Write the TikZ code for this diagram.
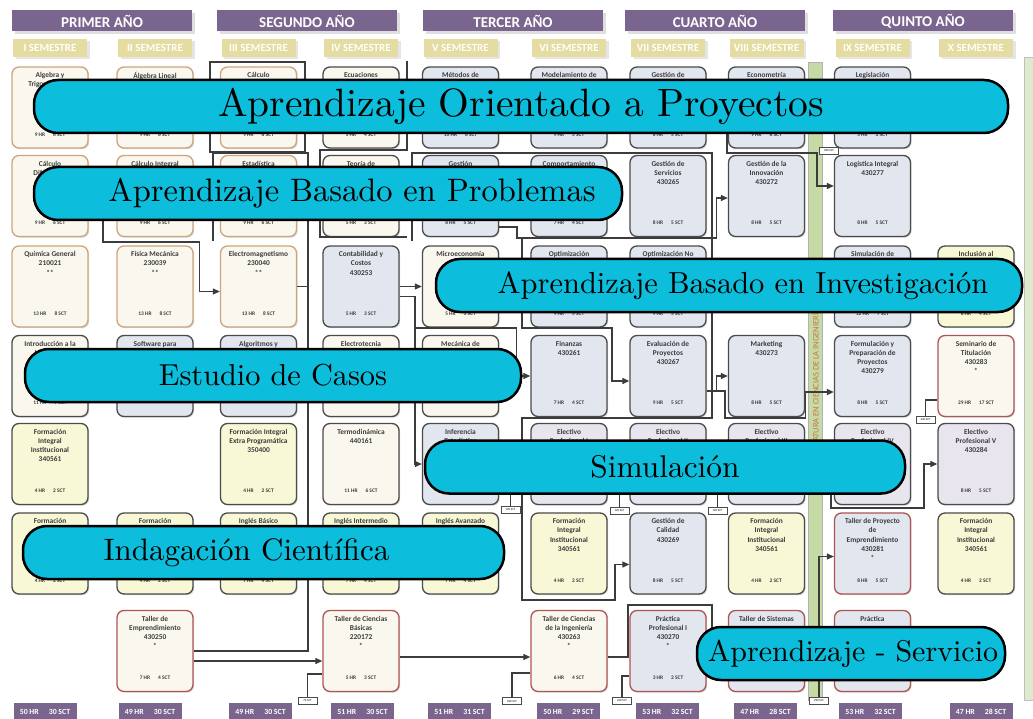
\documentclass[tikz,border=0pt]{standalone}
\usepackage{fontspec}
\newfontfamily\calib{Carlito}
\newfontfamily\cartelfont{lmroman10-regular.otf}
\usetikzlibrary{shadows,arrows.meta}

\definecolor{morado}{RGB}{122,101,142}
\definecolor{caqui}{RGB}{228,220,160}
\definecolor{celeste}{RGB}{12,190,220}
\definecolor{crema}{RGB}{250,248,238}
\definecolor{cafe}{RGB}{205,165,125}
\definecolor{grisazul}{RGB}{225,230,239}
\definecolor{borde}{RGB}{75,75,75}
\definecolor{amarillo}{RGB}{248,248,214}
\definecolor{lila}{RGB}{233,229,238}
\definecolor{rojizo}{RGB}{175,85,85}
\definecolor{verde}{RGB}{197,218,165}
\definecolor{verdeclaro}{RGB}{222,234,205}
\definecolor{ocre}{RGB}{200,115,75}
\definecolor{texto}{RGB}{60,60,60}
\definecolor{conector}{RGB}{60,60,60}

\begin{document}
\begin{tikzpicture}[x=1pt,y=-1pt,
  curso/.style={draw=borde, line width=1.3pt, rounded corners=7pt,
    minimum width=76pt, minimum height=81pt, inner sep=0pt,
    drop shadow={shadow xshift=1.2pt, shadow yshift=-1.2pt, opacity=.3}},
  basica/.style={curso, fill=crema, draw=cafe},
  ciencia/.style={curso, fill=crema},
  gestion/.style={curso, fill=grisazul},
  integral/.style={curso, fill=amarillo},
  electivo/.style={curso, fill=lila},
  taller/.style={curso, fill=crema, draw=rojizo},
  practica/.style={curso, fill=grisazul, draw=rojizo},
  tit/.style={anchor=north, yshift=-2.5pt, align=center, text=texto,
    font=\calib\bfseries\fontsize{7.4}{9.3}\selectfont},
  hrs/.style={anchor=south, yshift=9pt, text=texto,
    font=\calib\bfseries\fontsize{5.4}{5.6}\selectfont},
  anio/.style={fill=morado, text=white, minimum width=180pt, minimum height=21pt,
    font=\calib\bfseries\fontsize{15}{15}\selectfont,
    drop shadow={shadow xshift=2.5pt, shadow yshift=-2.5pt, opacity=.25}},
  semestre/.style={fill=caqui, text=white, minimum width=74pt, minimum height=18pt,
    font=\calib\bfseries\fontsize{11}{11}\selectfont,
    drop shadow={shadow xshift=2.5pt, shadow yshift=-2.5pt, opacity=.2}},
  total/.style={fill=morado, text=white, minimum width=63pt, minimum height=18pt,
    anchor=north, font=\calib\bfseries\fontsize{7.8}{7.8}\selectfont},
  etiqueta/.style={draw=borde, fill=white, line width=.6pt, inner sep=1pt,
    minimum width=19pt, minimum height=7pt, font=\calib\fontsize{3}{3}\selectfont},
  cartel/.style={draw=black, line width=2.5pt, fill=celeste, rounded corners=24pt,
    minimum height=53pt},
  linea/.style={draw=conector, line width=1.1pt},
  flecha/.style={linea, -{Triangle[length=7pt,width=6pt]}},
]
\path[use as bounding box, fill=white] (0,0) rectangle (1033,719);

% bandas verdes
\node[fill=verde, draw=gray!60, line width=.5pt, minimum width=14pt, minimum height=638pt] (banda) at (815,381) {};
\node[rotate=90, text=ocre, font=\calib\fontsize{8.5}{8.5}\selectfont] (lema) at (815,386) {ASIGNATURA EN CIENCIAS DE LA INGENIERÍA};
\node[fill=verdeclaro, draw=gray!50, line width=.5pt, anchor=north west, minimum width=16pt, minimum height=643pt] (banda2) at (1024,57) {};

% encabezados
\node[anio] (a1) at (102,21) {PRIMER AÑO};
\node[anio] (a2) at (307,21) {SEGUNDO AÑO};
\node[anio] (a3) at (513,21) {TERCER AÑO};
\node[anio] (a4) at (715,21) {CUARTO AÑO};
\node[anio] (a5) at (923,21) {QUINTO AÑO};
\node[semestre] (m1) at (50,48) {I SEMESTRE};
\node[semestre] (m2) at (155,48) {II SEMESTRE};
\node[semestre] (m3) at (258.5,48) {III SEMESTRE};
\node[semestre] (m4) at (361,48) {IV SEMESTRE};
\node[semestre] (m5) at (460.5,48) {V SEMESTRE};
\node[semestre] (m6) at (569,48) {VI SEMESTRE};
\node[semestre] (m7) at (668,48) {VII SEMESTRE};
\node[semestre] (m8) at (766.5,48) {VIII SEMESTRE};
\node[semestre] (m9) at (872.5,48) {IX SEMESTRE};
\node[semestre] (m10) at (976,48) {X SEMESTRE};

% I semestre
\node[basica, label={[tit]north:Algebra y\\Trigonometría}, label={[hrs]south:9 HR\hspace{8pt}6 SCT}] (s1r1) at (50,107.5) {};
\node[basica, label={[tit]north:Cálculo\\Diferencial}, label={[hrs]south:9 HR\hspace{8pt}6 SCT}] (s1r2) at (50,196) {};
\node[basica, label={[tit]north:Química General\\210021\\**}, label={[hrs]south:13 HR\hspace{8pt}8 SCT}] (s1r3) at (50,286.5) {};
\node[ciencia, label={[tit]north:Introducción a la\\Ingeniería}, label={[hrs]south:11 HR\hspace{8pt}7 SCT}] (s1r4) at (50,376) {};
\node[integral, label={[tit]north:Formación\\Integral\\Institucional\\340561}, label={[hrs]south:4 HR\hspace{8pt}2 SCT}] (s1r5) at (50,464) {};
\node[integral, label={[tit]north:Formación}, label={[hrs]south:4 HR\hspace{8pt}2 SCT}] (s1r6) at (50,553.5) {};
% II semestre
\node[basica, label={[tit]north:Álgebra Lineal}, label={[hrs]south:9 HR\hspace{8pt}6 SCT}] (s2r1) at (155,107.5) {};
\node[basica, label={[tit]north:Cálculo Integral}, label={[hrs]south:9 HR\hspace{8pt}6 SCT}] (s2r2) at (155,196) {};
\node[basica, label={[tit]north:Física Mecánica\\230039\\**}, label={[hrs]south:13 HR\hspace{8pt}8 SCT}] (s2r3) at (155,286.5) {};
\node[gestion, label={[tit]north:Software para}] (s2r4) at (155,376) {};
\node[integral, label={[tit]north:Formación}, label={[hrs]south:4 HR\hspace{8pt}2 SCT}] (s2r6) at (155,553.5) {};
\node[taller, label={[tit]north:Taller de\\Emprendimiento\\430250\\*}, label={[hrs]south:7 HR\hspace{8pt}4 SCT}] (s2r7) at (155,651) {};
% III semestre
\node[basica, label={[tit]north:Cálculo}, label={[hrs]south:9 HR\hspace{8pt}6 SCT}] (s3r1) at (258.5,107.5) {};
\node[basica, label={[tit]north:Estadística}, label={[hrs]south:9 HR\hspace{8pt}6 SCT}] (s3r2) at (258.5,196) {};
\node[basica, label={[tit]north:Electromagnetismo\\230040\\**}, label={[hrs]south:13 HR\hspace{8pt}8 SCT}] (s3r3) at (258.5,286.5) {};
\node[gestion, label={[tit]north:Algoritmos y}] (s3r4) at (258.5,376) {};
\node[integral, label={[tit]north:Formación Integral\\Extra Programática\\350400}, label={[hrs]south:4 HR\hspace{8pt}2 SCT}] (s3r5) at (258.5,464) {};
\node[integral, label={[tit]north:Inglés Básico}, label={[hrs]south:7 HR\hspace{8pt}4 SCT}] (s3r6) at (258.5,553.5) {};
% IV semestre
\node[ciencia, label={[tit]north:Ecuaciones}, label={[hrs]south:5 HR\hspace{8pt}4 SCT}] (s4r1) at (361,107.5) {};
\node[ciencia, label={[tit]north:Teoría de}, label={[hrs]south:5 HR\hspace{8pt}3 SCT}] (s4r2) at (361,196) {};
\node[gestion, label={[tit]north:Contabilidad y\\Costos\\430253}, label={[hrs]south:5 HR\hspace{8pt}3 SCT}] (s4r3) at (361,286.5) {};
\node[ciencia, label={[tit]north:Electrotecnia}] (s4r4) at (361,376) {};
\node[ciencia, label={[tit]north:Termodinámica\\440161}, label={[hrs]south:11 HR\hspace{8pt}6 SCT}] (s4r5) at (361,464) {};
\node[integral, label={[tit]north:Inglés Intermedio}, label={[hrs]south:7 HR\hspace{8pt}4 SCT}] (s4r6) at (361,553.5) {};
\node[taller, label={[tit]north:Taller de Ciencias\\Básicas\\220172\\*}, label={[hrs]south:5 HR\hspace{8pt}3 SCT}] (s4r7) at (361,651) {};
% V semestre
\node[gestion, label={[tit]north:Métodos de}, label={[hrs]south:10 HR\hspace{8pt}6 SCT}] (s5r1) at (460.5,107.5) {};
\node[gestion, label={[tit]north:Gestión}, label={[hrs]south:8 HR\hspace{8pt}5 SCT}] (s5r2) at (460.5,196) {};
\node[ciencia, label={[tit]north:Microeconomía}, label={[hrs]south:5 HR\hspace{8pt}3 SCT}] (s5r3) at (460.5,286.5) {};
\node[ciencia, label={[tit]north:Mecánica de\\Sólidos y Fluidos}] (s5r4) at (460.5,376) {};
\node[gestion, label={[tit]north:Inferencia\\Estadística}] (s5r5) at (460.5,464) {};
\node[integral, label={[tit]north:Inglés Avanzado}, label={[hrs]south:7 HR\hspace{8pt}4 SCT}] (s5r6) at (460.5,553.5) {};
% VI semestre
\node[gestion, label={[tit]north:Modelamiento de}, label={[hrs]south:9 HR\hspace{8pt}5 SCT}] (s6r1) at (569,107.5) {};
\node[gestion, label={[tit]north:Comportamiento}, label={[hrs]south:7 HR\hspace{8pt}4 SCT}] (s6r2) at (569,196) {};
\node[gestion, label={[tit]north:Optimización}, label={[hrs]south:9 HR\hspace{8pt}5 SCT}] (s6r3) at (569,286.5) {};
\node[gestion, label={[tit]north:Finanzas\\430261}, label={[hrs]south:7 HR\hspace{8pt}4 SCT}] (s6r4) at (569,376) {};
\node[electivo, label={[tit]north:Electivo\\Profesional I}, label={[hrs]south:8 HR\hspace{8pt}5 SCT}] (s6r5) at (569,464) {};
\node[integral, label={[tit]north:Formación\\Integral\\Institucional\\340561}, label={[hrs]south:4 HR\hspace{8pt}2 SCT}] (s6r6) at (569,553.5) {};
\node[taller, label={[tit]north:Taller de Ciencias\\de la Ingeniería\\430263\\*}, label={[hrs]south:6 HR\hspace{8pt}4 SCT}] (s6r7) at (569,651) {};
% VII semestre
\node[gestion, label={[tit]north:Gestión de}, label={[hrs]south:8 HR\hspace{8pt}5 SCT}] (s7r1) at (668,107.5) {};
\node[gestion, label={[tit]north:Gestión de\\Servicios\\430265}, label={[hrs]south:8 HR\hspace{8pt}5 SCT}] (s7r2) at (668,196) {};
\node[gestion, label={[tit]north:Optimización No}, label={[hrs]south:9 HR\hspace{8pt}5 SCT}] (s7r3) at (668,286.5) {};
\node[gestion, label={[tit]north:Evaluación de\\Proyectos\\430267}, label={[hrs]south:9 HR\hspace{8pt}5 SCT}] (s7r4) at (668,376) {};
\node[electivo, label={[tit]north:Electivo\\Profesional II}, label={[hrs]south:8 HR\hspace{8pt}5 SCT}] (s7r5) at (668,464) {};
\node[gestion, label={[tit]north:Gestión de\\Calidad\\430269}, label={[hrs]south:8 HR\hspace{8pt}5 SCT}] (s7r6) at (668,553.5) {};
\node[practica, label={[tit]north:Práctica\\Profesional I\\430270\\*}, label={[hrs]south:3 HR\hspace{8pt}2 SCT}] (s7r7) at (668,651) {};
% VIII semestre
\node[gestion, label={[tit]north:Econometría}, label={[hrs]south:9 HR\hspace{8pt}6 SCT}] (s8r1) at (766.5,107.5) {};
\node[gestion, label={[tit]north:Gestión de la\\Innovación\\430272}, label={[hrs]south:8 HR\hspace{8pt}5 SCT}] (s8r2) at (766.5,196) {};
\node[gestion, label={[tit]north:Marketing\\430273}, label={[hrs]south:8 HR\hspace{8pt}5 SCT}] (s8r4) at (766.5,376) {};
\node[electivo, label={[tit]north:Electivo\\Profesional III}, label={[hrs]south:8 HR\hspace{8pt}5 SCT}] (s8r5) at (766.5,464) {};
\node[integral, label={[tit]north:Formación\\Integral\\Institucional\\340561}, label={[hrs]south:4 HR\hspace{8pt}2 SCT}] (s8r6) at (766.5,553.5) {};
\node[practica, label={[tit]north:Taller de Sistemas}, label={[hrs]south:9 HR\hspace{8pt}5 SCT}] (s8r7) at (766.5,651) {};
% IX semestre
\node[gestion, label={[tit]north:Legislación}, label={[hrs]south:5 HR\hspace{8pt}3 SCT}] (s9r1) at (872.5,107.5) {};
\node[gestion, label={[tit]north:Logística Integral\\430277}, label={[hrs]south:8 HR\hspace{8pt}5 SCT}] (s9r2) at (872.5,196) {};
\node[gestion, label={[tit]north:Simulación de\\Procesos}, label={[hrs]south:12 HR\hspace{8pt}7 SCT}] (s9r3) at (872.5,286.5) {};
\node[gestion, label={[tit]north:Formulación y\\Preparación de\\Proyectos\\430279}, label={[hrs]south:8 HR\hspace{8pt}5 SCT}] (s9r4) at (872.5,376) {};
\node[electivo, label={[tit]north:Electivo\\Profesional IV}, label={[hrs]south:8 HR\hspace{8pt}5 SCT}] (s9r5) at (872.5,464) {};
\node[practica, label={[tit]north:Taller de Proyecto\\de\\Emprendimiento\\430281\\*}, label={[hrs]south:8 HR\hspace{8pt}5 SCT}] (s9r6) at (872.5,553.5) {};
\node[practica, label={[tit]north:Práctica}, label={[hrs]south:9 HR\hspace{8pt}2 SCT}] (s9r7) at (872.5,651) {};
% X semestre
\node[integral, label={[tit]north:Inclusión al}, label={[hrs]south:6 HR\hspace{8pt}4 SCT}] (s10r3) at (976,286.5) {};
\node[taller, label={[tit]north:Seminario de\\Titulación\\430283\\*}, label={[hrs]south:29 HR\hspace{8pt}17 SCT}] (s10r4) at (976,376) {};
\node[electivo, label={[tit]north:Electivo\\Profesional V\\430284}, label={[hrs]south:8 HR\hspace{8pt}5 SCT}] (s10r5) at (976,464) {};
\node[integral, label={[tit]north:Formación\\Integral\\Institucional\\340561}, label={[hrs]south:4 HR\hspace{8pt}2 SCT}] (s10r6) at (976,553.5) {};

% totales
\node[total] (t1) at (45,703) {50 HR\hspace{10pt}30 SCT};
\node[total] (t2) at (150,703) {49 HR\hspace{10pt}30 SCT};
\node[total] (t3) at (260.5,703) {49 HR\hspace{10pt}30 SCT};
\node[total] (t4) at (362.5,703) {51 HR\hspace{10pt}30 SCT};
\node[total] (t5) at (459.5,703) {51 HR\hspace{10pt}31 SCT};
\node[total] (t6) at (568.5,703) {50 HR\hspace{10pt}29 SCT};
\node[total] (t7) at (667.5,703) {53 HR\hspace{10pt}32 SCT};
\node[total] (t8) at (765.5,703) {47 HR\hspace{10pt}28 SCT};
\node[total] (t9) at (870.5,703) {53 HR\hspace{10pt}32 SCT};
\node[total] (t10) at (981,703) {47 HR\hspace{10pt}28 SCT};

% etiquetas de creditos
\node[etiqueta] (l1) at (307.5,700.5) {72 SCT};
\node[etiqueta] (l2) at (512,701) {180 SCT};
\node[etiqueta] (l3) at (622,701) {240 SCT};
\node[etiqueta] (l4) at (819,701) {290 SCT};
\node[etiqueta] (l5) at (510.5,509.5) {120 SCT};
\node[etiqueta] (l6) at (619.5,510.5) {120 SCT};
\node[etiqueta] (l7) at (717.5,510.5) {120 SCT};
\node[etiqueta] (l9) at (925.5,420) {240 SCT};

% conectores
\coordinate (k2) at (415,328);
\coordinate (k4) at (727,120);
\coordinate (k5) at (831,470);
\coordinate (k6) at (712,640);
\path[linea] (210,62) rectangle (305,152);
\path[linea] (213,241) |- (308,153) |- (s2r7.east);
\path[linea] (s3r3.east) -- ++(11.5,0);
\path[flecha] (s1r2.east) -| (103,242) -| ([xshift=-20pt,yshift=-5pt]s3r3.west) -- ([yshift=-5pt]s3r3.west);
\path[flecha] ([yshift=-10pt]s2r7.east) -- ([yshift=-10pt]s4r7.west);
\path[linea] (l1.north) |- ([yshift=-23pt]s4r7.west);
\path[linea] (407,61) |- (320,150) |- (407,237);
\path[linea] (412,241) |- (712,153) |- (517,238) |- ([yshift=-31pt]s5r2.east);
\path[flecha] (712,238) |- (522,418) |- (615,600) |- ([yshift=-11pt]s7r6.west);
\path[flecha] (522,238) |- (612,328) |- ([yshift=-5pt]s7r4.west);
\path[flecha] (s4r3) -- (s5r3);
\path[flecha] ([yshift=-10pt]s4r3.east) -| (k2) -| ([xshift=-14pt]s6r4.west) -- (s6r4.west);
\path[flecha] (k2) |- (s5r5.west);
\path[flecha] ([yshift=-15pt]s7r4.east) -| ([xshift=-11pt]s8r4.west) -- (s8r4.west);
\path[flecha] ([yshift=-15pt]s7r4.east) -| (725,418) -| ([xshift=-28pt,yshift=-16pt]s9r4.west) -- ([yshift=-16pt]s9r4.west);
\path[flecha] (712,238) -| ([xshift=-11pt,yshift=-2pt]s8r2.west) -- ([yshift=-2pt]s8r2.west);
\path[flecha] (k4) |- (817,153) |- ([yshift=10pt]s9r2.west);
\path[flecha] (k5) |- (924,508) |- (s10r5.west);
\path[linea] (l9.north) |- ([yshift=-24pt]s10r4.west);
\path[flecha] ([yshift=-6pt]s4r7.east) -- ([yshift=-6pt]s6r7.west);
\path[linea] (l2.north) |- ([yshift=-22pt]s6r7.west);
\path[linea] ([yshift=-6pt]s6r7.east) -| (628,605) -| (k6);
\path[linea] (l3.north) |- ([yshift=-25pt]s7r7.west);
\path[flecha] (l4.north) |- ([yshift=-3pt]s9r6.west);
\path[linea] (l5.north) |- (s5r5.east);
\path[linea] (l6.north) |- (s6r5.east);
\path[linea] (l7.north) |- (s7r5.east);
\node[etiqueta] (l8) at (829,150.5) {180 SCT};

% metodologias
\node[cartel, minimum width=974pt, label={[font=\cartelfont\fontsize{39.5}{39.5}\selectfont]center:Aprendizaje Orientado a Proyectos}] (b1) at (521,106.5) {};
\node[cartel, minimum width=588pt, label={[xshift=24pt, font=\cartelfont\fontsize{32.5}{32.5}\selectfont]center:Aprendizaje Basado en Problemas}] (b2) at (328,193.5) {};
\node[cartel, minimum width=586pt, label={[xshift=14pt, font=\cartelfont\fontsize{30.5}{30.5}\selectfont]center:Aprendizaje Basado en Investigación}] (b3) at (729,285.5) {};
\node[cartel, minimum width=496pt, label={[font=\cartelfont\fontsize{30.3}{30.3}\selectfont]center:Estudio de Casos}] (b4) at (273,375.5) {};
\node[cartel, minimum width=480pt, label={[font=\cartelfont\fontsize{31.4}{31.4}\selectfont]center:Simulación}] (b5) at (665,467) {};
\node[cartel, minimum width=481pt, label={[xshift=-17pt, font=\cartelfont\fontsize{31}{31}\selectfont]center:Indagación Científica}] (b6) at (263.5,552.5) {};
\node[cartel, minimum width=308pt, label={[xshift=2pt, font=\cartelfont\fontsize{30}{30}\selectfont]center:Aprendizaje - Servicio}] (b7) at (851,653.5) {};
\end{tikzpicture}
\end{document}
